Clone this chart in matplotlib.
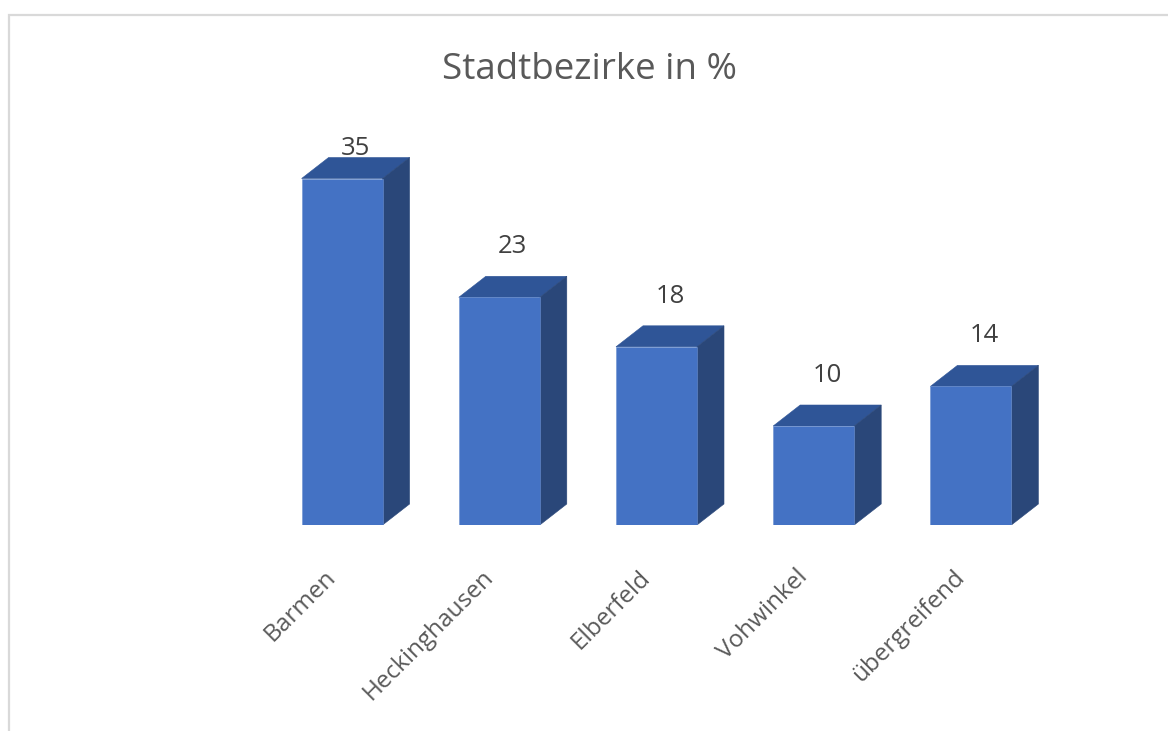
import matplotlib.pyplot as plt
from matplotlib.patches import Polygon, Rectangle

# data
districts = ["Barmen", "Heckinghausen", "Elberfeld", "Vohwinkel", "übergreifend"]
percent = [35, 23, 18, 10, 14]
title = "Stadtbezirke in %"

# colours (3d look like excel)
front_col = "#4472C4"
top_col = "#2F5597"
side_col = "#2A4779"
text_col = "#595959"

W, H = 1168, 731
plt.rcParams["font.family"] = ["Open Sans", "DejaVu Sans"]

fig = plt.figure(figsize=(W / 100, H / 100), dpi=100)

# light frame of the chart area (only top/left visible)
fig.patches.append(Rectangle((9 / W, -0.1), 1.2, (H - 15) / H + 0.1, transform=fig.transFigure,
                             fill=False, edgecolor="#D9D9D9", linewidth=1.6))

# axes placed so that one category = 157 px, one percent = 9.91 px
ax_left, ax_right = 263.5, 1049.5
ax_bottom, ax_top = 525, 129
ax = fig.add_axes([ax_left / W, (H - ax_bottom) / H, (ax_right - ax_left) / W, (ax_bottom - ax_top) / H])
n = len(districts)
ax.set_xlim(-0.5, n - 0.5)
ax.set_ylim(0, 40)

px_x = (ax_right - ax_left) / n
px_y = (ax_bottom - ax_top) / 40
dx = 27 / px_x   # depth to the right
dy = 21 / px_y   # depth upwards
width = 81 / px_x

bars = ax.bar(range(n), percent, width=width, color=front_col, zorder=3,
              edgecolor="#6A8FD0", linewidth=0.4)
for b in bars:
    x0 = b.get_x()
    x1 = x0 + b.get_width()
    h = b.get_height()
    top = Polygon([(x0, h), (x0 + dx, h + dy), (x1 + dx, h + dy), (x1, h)],
                  closed=True, facecolor=top_col, edgecolor=top_col, linewidth=0.4, zorder=2)
    side = Polygon([(x1, 0), (x1 + dx, dy), (x1 + dx, h + dy), (x1, h)],
                   closed=True, facecolor=side_col, edgecolor=side_col, linewidth=0.4, zorder=2)
    ax.add_patch(top)
    ax.add_patch(side)
    # value label above the bar
    ly = min(h + dy + 3.0, 38.0)
    ax.text(b.get_x() + b.get_width() / 2 + dx * 0.5, ly, str(int(h)), ha="center", va="center",
            fontsize=18.5, color="#404040")

# category labels, rotated like excel does
for i, name in enumerate(districts):
    ax.annotate(name, xy=(i, 0), xytext=(-13, -29), textcoords="offset points",
                rotation=45, ha="right", va="top", rotation_mode="anchor",
                fontsize=17.5, color=text_col, annotation_clip=False)

ax.set_xticks([])
ax.set_yticks([])
for s in ax.spines.values():
    s.set_visible(False)
ax.patch.set_alpha(0)

fig.text(590 / W, 1 - 70 / H, title, ha="center", va="center", fontsize=26.5, color=text_col)

fig.savefig("out.png", dpi=100)
